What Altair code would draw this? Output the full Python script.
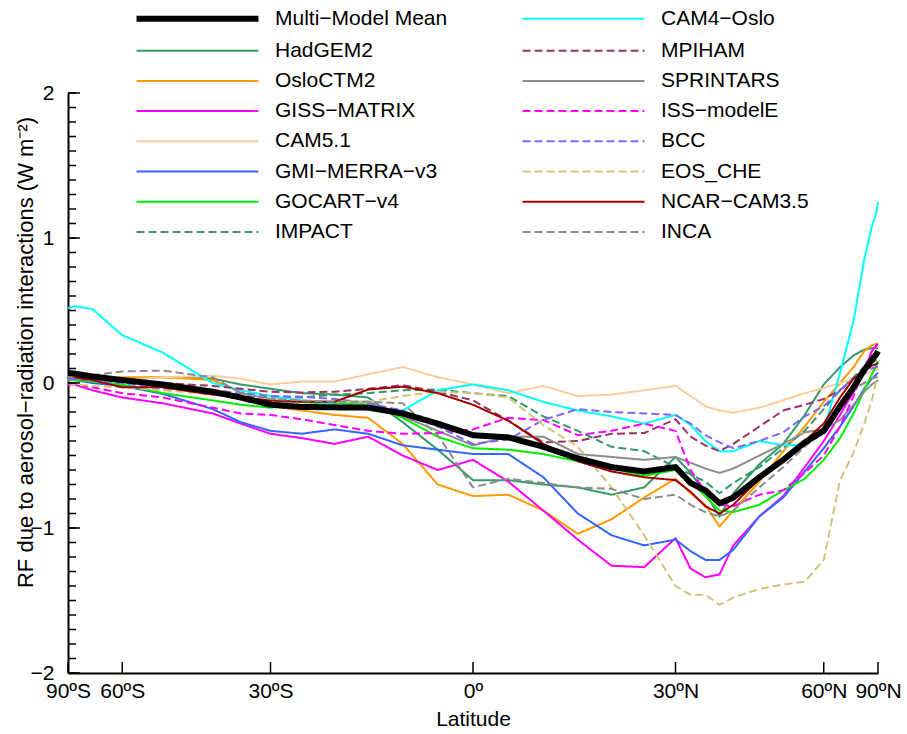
import altair as alt
import numpy as np
import pandas as pd

# Latitude grid (degrees) at which values were read
LATS = [-90, -80, -70, -60, -50, -40, -35, -30, -25, -20, -15, -10, -5, 0, 5, 10,
        15, 20, 25, 30, 32.5, 35, 37.5, 40, 45, 50, 55, 60, 65, 70, 75, 80, 85, 90]

MMM = [0.07, 0.065, 0.045, 0.02, -0.01, -0.06, -0.10, -0.15, -0.165, -0.168, -0.17, -0.21, -0.28, -0.36, -0.375, -0.44,
       -0.52, -0.58, -0.61, -0.58, -0.69, -0.74, -0.83, -0.79, -0.65, -0.53, -0.41, -0.33, -0.16, -0.03, 0.09, 0.16, 0.20, 0.22]
HADGEM2 = [0.03, 0.03, 0.03, 0.03, 0.04, 0.03, -0.01, -0.04, -0.07, -0.08, -0.10, -0.27, -0.46, -0.67, -0.67, -0.70,
           -0.72, -0.77, -0.72, -0.51, -0.62, -0.76, -0.92, -0.76, -0.56, -0.42, -0.22, -0.01, 0.11, 0.19, 0.23, 0.24, 0.24, 0.24]
OSLOCTM2 = [0.03, 0.03, 0.03, 0.04, 0.04, 0.02, -0.06, -0.16, -0.19, -0.22, -0.24, -0.42, -0.70, -0.78, -0.77, -0.88,
            -1.04, -0.94, -0.79, -0.66, -0.76, -0.84, -0.99, -0.88, -0.68, -0.47, -0.30, -0.13, 0.0, 0.11, 0.22, 0.26, 0.27, 0.27]
GISS_MATRIX = [0.01, -0.01, -0.05, -0.10, -0.14, -0.21, -0.28, -0.35, -0.38, -0.42, -0.37, -0.50, -0.60, -0.53, -0.68, -0.88,
               -1.08, -1.26, -1.27, -1.07, -1.28, -1.34, -1.32, -1.12, -0.92, -0.78, -0.58, -0.40, -0.22, -0.06, 0.08, 0.22, 0.26, 0.26]
CAM51 = [0.02, 0.02, 0.02, 0.02, 0.04, 0.05, 0.03, -0.01, 0.01, 0.01, 0.06, 0.11, 0.04, -0.01, -0.07, -0.02,
         -0.09, -0.08, -0.05, -0.02, -0.09, -0.16, -0.19, -0.205, -0.17, -0.12, -0.07, -0.035, 0.0, 0.03, 0.06, 0.08, 0.09, 0.10]
GMI = [0.02, 0.02, 0.0, -0.02, -0.075, -0.18, -0.27, -0.33, -0.35, -0.32, -0.35, -0.43, -0.46, -0.49, -0.49, -0.65,
       -0.90, -1.05, -1.12, -1.08, -1.16, -1.22, -1.22, -1.15, -0.92, -0.79, -0.61, -0.45, -0.30, -0.16, -0.04, 0.03, 0.06, 0.07]
GOCART = [0.02, 0.02, 0.01, -0.01, -0.07, -0.12, -0.15, -0.17, -0.15, -0.14, -0.15, -0.24, -0.37, -0.45, -0.46, -0.49,
          -0.54, -0.59, -0.64, -0.60, -0.68, -0.78, -0.88, -0.89, -0.84, -0.74, -0.66, -0.53, -0.38, -0.21, -0.05, 0.06, 0.12, 0.15]
IMPACT = [0.03, 0.03, 0.02, 0.01, -0.02, -0.06, -0.09, -0.10, -0.10, -0.08, -0.07, -0.05, -0.045, -0.07, -0.09, -0.23,
          -0.33, -0.44, -0.47, -0.58, -0.63, -0.68, -0.76, -0.69, -0.58, -0.45, -0.33, -0.18, -0.05, 0.04, 0.11, 0.14, 0.16, 0.17]
CAM4_OSLO = [0.515, 0.53, 0.51, 0.33, 0.21, 0.0, -0.05, -0.09, -0.12, -0.15, -0.18, -0.19, -0.05, -0.01, -0.05, -0.13,
             -0.19, -0.23, -0.28, -0.22, -0.29, -0.40, -0.47, -0.47, -0.40, -0.43, -0.43, -0.33, 0.07, 0.43, 0.85, 1.08, 1.18, 1.25]
MPIHAM = [0.03, 0.03, 0.02, 0.02, 0.0, -0.02, -0.04, -0.06, -0.065, -0.06, -0.04, -0.015, -0.06, -0.12, -0.26, -0.41,
          -0.40, -0.35, -0.345, -0.25, -0.37, -0.43, -0.47, -0.42, -0.30, -0.19, -0.15, -0.11, -0.05, 0.03, 0.10, 0.16, 0.19, 0.20]
SPRINTARS = [0.03, 0.03, 0.03, 0.01, -0.02, -0.06, -0.10, -0.13, -0.13, -0.13, -0.13, -0.23, -0.33, -0.43, -0.37, -0.37,
             -0.49, -0.51, -0.53, -0.51, -0.55, -0.59, -0.62, -0.59, -0.50, -0.42, -0.34, -0.32, -0.255, -0.15, -0.06, -0.01, 0.01, 0.02]
ISS_MODELE = [-0.01, -0.01, -0.03, -0.07, -0.10, -0.17, -0.21, -0.22, -0.25, -0.29, -0.33, -0.35, -0.345, -0.32, -0.24, -0.255,
              -0.36, -0.33, -0.28, -0.33, -0.60, -0.75, -0.84, -0.85, -0.77, -0.74, -0.62, -0.50, -0.30, -0.09, 0.10, 0.22, 0.26, 0.27]
BCC = [0.03, 0.03, 0.02, 0.0, -0.04, -0.05, -0.07, -0.09, -0.095, -0.11, -0.14, -0.19, -0.30, -0.42, -0.39, -0.255,
       -0.18, -0.20, -0.21, -0.22, -0.28, -0.36, -0.41, -0.45, -0.40, -0.34, -0.23, -0.16, -0.05, 0.03, 0.07, 0.10, 0.11, 0.11]
EOS_CHE = [0.0, -0.01, -0.02, -0.03, -0.05, -0.08, -0.10, -0.12, -0.13, -0.13, -0.13, -0.09, -0.06, -0.07, -0.10, -0.29,
           -0.44, -0.72, -1.05, -1.40, -1.46, -1.46, -1.53, -1.48, -1.42, -1.39, -1.37, -1.22, -0.67, -0.48, -0.28, -0.12, 0.02, 0.04]
NCAR_CAM35 = [0.05, 0.04, 0.02, -0.03, -0.03, -0.08, -0.10, -0.12, -0.13, -0.13, -0.045, -0.025, -0.07, -0.15, -0.26, -0.42,
              -0.54, -0.61, -0.65, -0.67, -0.75, -0.85, -0.90, -0.84, -0.66, -0.52, -0.40, -0.28, -0.10, 0.03, 0.08, 0.12, 0.13, 0.14]
INCA = [0.04, 0.045, 0.055, 0.08, 0.085, 0.04, -0.07, -0.11, -0.12, -0.13, -0.13, -0.14, -0.36, -0.72, -0.66, -0.69,
        -0.72, -0.73, -0.80, -0.77, -0.84, -0.89, -0.92, -0.88, -0.72, -0.58, -0.44, -0.33, -0.16, -0.04, 0.0, 0.03, 0.04, 0.04]

SERIES = {
    "Multi−Model Mean": MMM,
    "HadGEM2": HADGEM2,
    "OsloCTM2": OSLOCTM2,
    "GISS−MATRIX": GISS_MATRIX,
    "CAM5.1": CAM51,
    "GMI−MERRA−v3": GMI,
    "GOCART−v4": GOCART,
    "IMPACT": IMPACT,
    "CAM4−Oslo": CAM4_OSLO,
    "MPIHAM": MPIHAM,
    "SPRINTARS": SPRINTARS,
    "ISS−modelE": ISS_MODELE,
    "BCC": BCC,
    "EOS_CHE": EOS_CHE,
    "NCAR−CAM3.5": NCAR_CAM35,
    "INCA": INCA,
}

COLORS = {
    "Multi−Model Mean": "#000000", "HadGEM2": "#339966", "OsloCTM2": "#FF9900",
    "GISS−MATRIX": "#FF00FF", "CAM5.1": "#FFCC99", "GMI−MERRA−v3": "#3366FF",
    "GOCART−v4": "#00EE00", "IMPACT": "#339966", "CAM4−Oslo": "#00FFFF",
    "MPIHAM": "#993366", "SPRINTARS": "#8C8C8C", "ISS−modelE": "#FF00FF",
    "BCC": "#7F66FF", "EOS_CHE": "#D1C57A", "NCAR−CAM3.5": "#A00000", "INCA": "#8C8C8C",
}
DASHED = {"IMPACT", "MPIHAM", "ISS−modelE", "BCC", "EOS_CHE", "INCA"}

NAMES = list(SERIES.keys())

rows = []
for name, vals in SERIES.items():
    for lat, v in zip(LATS, vals):
        rows.append({"model": name, "lat": lat, "rf": v})
df = pd.DataFrame(rows)

X_TICK_LATS = [-90, -60, -30, 0, 30, 60, 90]
X_TICKS = [float(np.sin(np.radians(d))) for d in X_TICK_LATS]
Y_MAJOR = [-2, -1, 0, 1, 2]
Y_MINOR = [round(-2 + 0.1 * i, 1) for i in range(41)]

FONT = "Liberation Sans"

# long horizontal legend line: custom path 12 units wide, scaled by sqrt(size)/2
legend = alt.Legend(
    title=None, orient="none", legendX=116, legendY=-88, columns=2, direction="vertical",
    symbolType="M-6,0L6,0", symbolSize=413, labelFont=FONT, labelFontSize=21,
    labelColor="black", labelOffset=64, labelLimit=400, rowPadding=8.2,
    columnPadding=70, padding=0,
)

xscale = alt.Scale(domain=[-1, 1], nice=False, zero=False)
yscale = alt.Scale(domain=[-2, 2], nice=False, zero=False)

x_axis = alt.Axis(
    values=X_TICKS, title="Latitude", titleFontSize=21, labelPadding=7,
    titleBaseline="middle", titleY=46, labelOverlap=False, labelFlush=False,
    labelExpr=("round(asin(clamp(datum.value,-1,1))*180/PI) == 0 ? '0º' : "
               "(abs(round(asin(clamp(datum.value,-1,1))*180/PI)) + 'º' + (datum.value < 0 ? 'S' : 'N'))"),
)
y_axis = alt.Axis(
    values=Y_MAJOR, title="RF due to aerosol−radiation interactions (W m⁻²)",
    titleFontSize=22, labelPadding=14, titleX=-43, titleY=259, labelOverlap=False, labelFlush=False,
    titleAngle=270, titleAlign="center", titleBaseline="middle",
)

def xenc():
    return alt.X("sx:Q", scale=xscale, axis=x_axis)

def yenc():
    return alt.Y("rf:Q", scale=yscale, axis=y_axis)

common = dict(
    x=xenc(), y=yenc(),
    color=alt.Color("model:O", scale=alt.Scale(domain=NAMES, range=[COLORS[m] for m in NAMES]), legend=legend),
    strokeDash=alt.StrokeDash("model:O", scale=alt.Scale(domain=NAMES, range=[[8, 4] if m in DASHED else [1, 0] for m in NAMES]), legend=legend),
    strokeWidth=alt.StrokeWidth("model:O", scale=alt.Scale(type="ordinal", domain=NAMES, range=[6 if m == "Multi−Model Mean" else 2 for m in NAMES]), legend=legend),
    detail="model:N",
)

base = alt.Chart(df).transform_calculate(sx="sin(datum.lat*PI/180)")
models = base.transform_filter(alt.datum.model != "Multi−Model Mean").mark_line(strokeJoin="round").encode(**common)
mean = base.transform_filter(alt.datum.model == "Multi−Model Mean").mark_line(strokeJoin="round").encode(**common)

xt = alt.Chart(pd.DataFrame({"lat": X_TICK_LATS})).transform_calculate(sx="sin(datum.lat*PI/180)").mark_rule(
    color="black", strokeWidth=1.5).encode(x=xenc(), y=alt.value(580), y2=alt.value(569))
ymin = alt.Chart(pd.DataFrame({"rf": Y_MINOR})).mark_rule(color="black", strokeWidth=1.5).encode(
    y=yenc(), x=alt.value(0), x2=alt.value(8))
ymaj = alt.Chart(pd.DataFrame({"rf": Y_MAJOR})).mark_rule(color="black", strokeWidth=1.5).encode(
    y=yenc(), x=alt.value(0), x2=alt.value(12))

chart = alt.layer(models, mean, xt, ymin, ymaj).properties(
    width=810, height=580, autosize="none",
    padding={"left": 68, "top": 93, "right": 29, "bottom": 61},
).configure_view(stroke=None).configure_axis(
    domainColor="black", domainWidth=2, ticks=False, tickSize=0, grid=False,
    labelFont=FONT, labelFontSize=21, labelColor="black",
    titleFont=FONT, titleFontWeight="normal", titleColor="black",
)

chart.save("out.html", embed_options={"renderer": "svg", "actions": False})
